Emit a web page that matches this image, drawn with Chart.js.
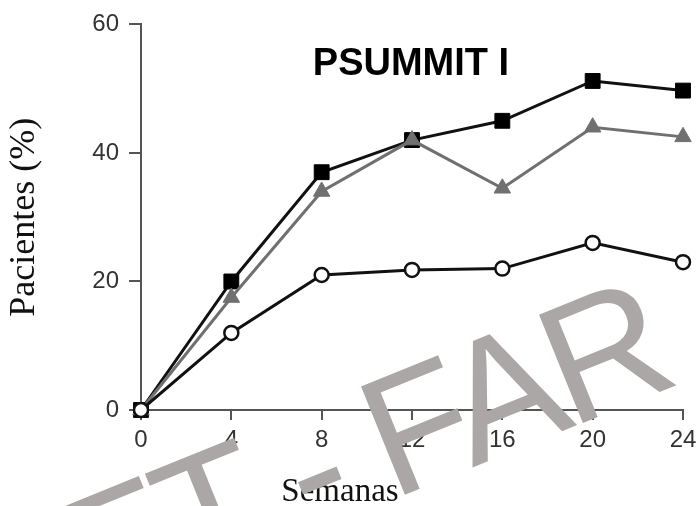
<!DOCTYPE html>
<html><head><meta charset="utf-8">
<script src="https://cdn.jsdelivr.net/npm/chart.js@4"></script>
<style>html,body{margin:0;padding:0;background:#fff}#wrap{width:696px;height:506px}</style>
</head><body><div id="wrap"><canvas id="c" width="696" height="506"></canvas></div>
<script>
const weeks = [0, 4, 8, 12, 16, 20, 24];
const squares = [0, 20, 37, 42, 45, 51.2, 49.7];
const triangles = [0, 17.5, 34, 42, 34.5, 44, 42.5];
const circles = [0, 12, 21, 21.8, 22, 26, 23];
const chartTitle = 'PSUMMIT I';
const xTitle = 'Semanas';
const yTitle = 'Pacientes (%)';
const watermarkLeft = 'ET - ';
const watermarkRight = 'FAR';

const pts = arr => weeks.map((w, i) => ({x: w, y: arr[i]}));

const overlay = {
  id: 'overlay',
  afterDraw(chart) {
    const ctx = chart.ctx;
    ctx.save();
    ctx.fillStyle = '#000';
    ctx.font = 'bold 38px "Liberation Sans"';
    ctx.textAlign = 'center';
    ctx.textBaseline = 'alphabetic';
    ctx.fillText(chartTitle, 411, 75);
    ctx.font = '33px "Liberation Serif"';
    ctx.fillStyle = '#111';
    ctx.fillText(xTitle, 340, 501);
    ctx.translate(392, 500);
    ctx.rotate(-22 * Math.PI / 180);
    ctx.font = '170px "Liberation Sans"';
    ctx.fillStyle = '#aba7a7';
    ctx.letterSpacing = '-8px';
    ctx.textAlign = 'right';
    ctx.fillText(watermarkLeft, 0, 0);
    ctx.textAlign = 'left';
    ctx.fillText(watermarkRight, 0, 0);
    ctx.restore();
  }
};

new Chart(document.getElementById('c'), {
  type: 'line',
  data: {
    datasets: [
      {label: 'circles', data: pts(circles), borderColor: '#111', borderWidth: 3,
       pointStyle: 'circle', pointRadius: 7, pointBackgroundColor: '#fff', pointBorderColor: '#111', pointBorderWidth: 2.5, clip: false},
      {label: 'triangles', data: pts(triangles), borderColor: '#707070', borderWidth: 3,
       pointStyle: 'triangle', pointRadius: 9.5, pointBackgroundColor: '#707070', pointBorderColor: '#707070', pointBorderWidth: 1, clip: false},
      {label: 'squares', data: pts(squares), borderColor: '#111', borderWidth: 3,
       pointStyle: 'rect', pointRadius: 10.5, pointBackgroundColor: '#000', pointBorderColor: '#000', pointBorderWidth: 1, clip: false}
    ]
  },
  options: {
    responsive: false,
    animation: false,
    devicePixelRatio: 1,
    layout: {autoPadding: false, padding: {top: 22, right: 13, left: 0, bottom: 0}},
    plugins: {legend: {display: false}, tooltip: {enabled: false}, title: {display: false}},
    elements: {line: {tension: 0}},
    scales: {
      x: {
        type: 'linear', min: 0, max: 24,
        afterFit(s) { s.height = 96; s.paddingRight = 13; s.paddingLeft = 0; },
        ticks: {stepSize: 4, color: '#333', font: {family: '"Liberation Sans"', size: 24}, padding: 6, maxRotation: 0},
        grid: {display: true, drawOnChartArea: false, drawTicks: true, tickLength: 10, color: '#555', lineWidth: 2},
        border: {display: true, color: '#555', width: 2}
      },
      y: {
        min: 0, max: 60,
        afterFit(s) { s.width = 141; },
        ticks: {stepSize: 20, color: '#333', font: {family: '"Liberation Sans"', size: 24}, padding: 10},
        grid: {display: true, drawOnChartArea: false, drawTicks: true, tickLength: 12, color: '#555', lineWidth: 2},
        border: {display: true, color: '#555', width: 2},
        title: {display: true, text: yTitle, color: '#111', font: {family: '"Liberation Serif"', size: 36}, padding: {top: 3, bottom: 0}}
      }
    }
  },
  plugins: [overlay]
});
</script>
</body></html>
